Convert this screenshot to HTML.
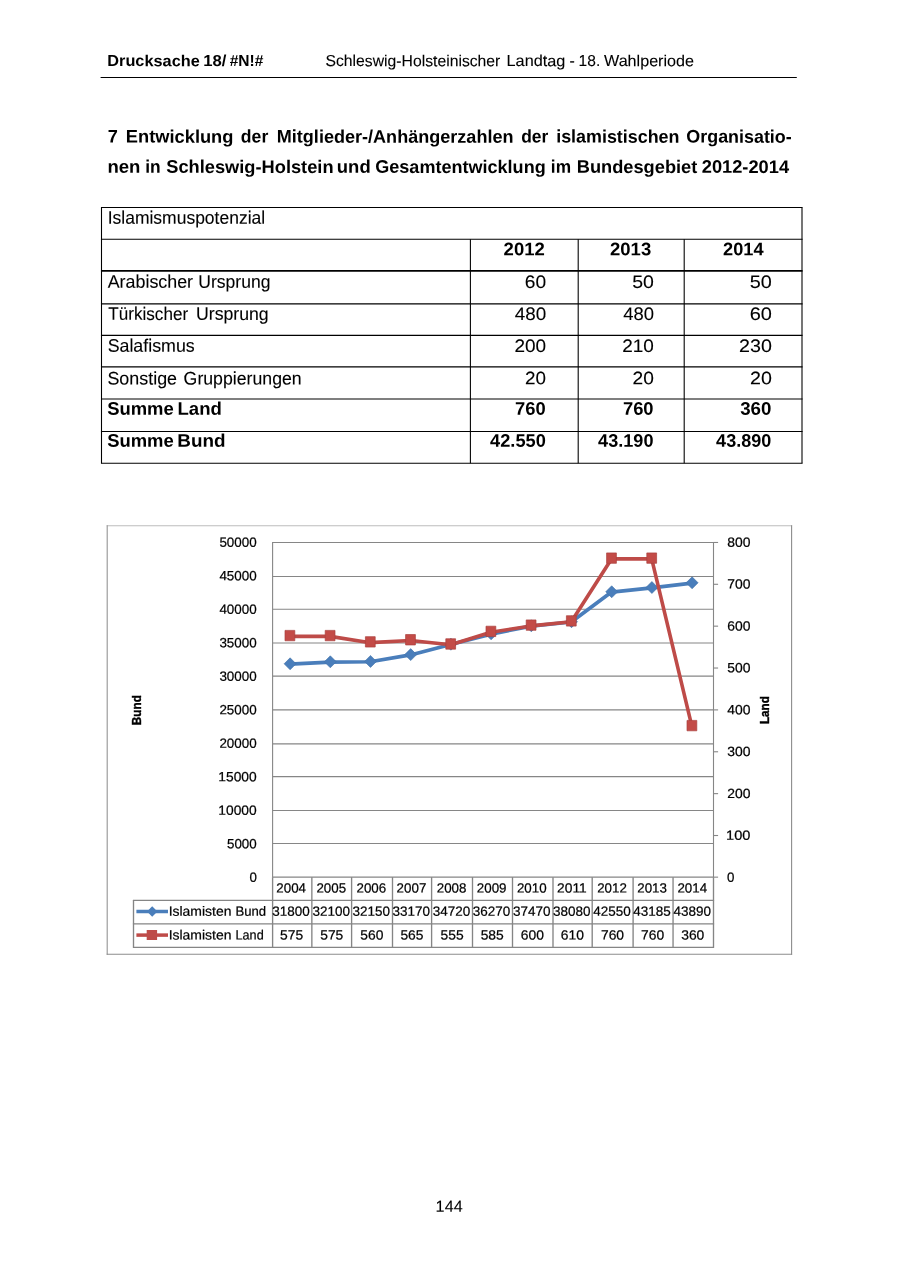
<!DOCTYPE html>
<html lang="de">
<head>
<meta charset="utf-8">
<title>Drucksache 18 - Schleswig-Holsteinischer Landtag - 18. Wahlperiode</title>
<style>
html,body{margin:0;padding:0;background:#fff;}
body{width:900px;height:1272px;overflow:hidden;font-family:"Liberation Sans",sans-serif;color:#000;}
svg{display:block;}
svg text{font-family:"Liberation Sans",sans-serif;white-space:pre;}
</style>
</head>
<body>
<svg width="900" height="1272" viewBox="0 0 900 1272">
<rect x="0" y="0" width="900" height="1272" fill="#fff"/>
<g stroke="#000" fill="none">
<line x1="100.6" y1="77.5" x2="796.8" y2="77.5" stroke-width="1.1"/>
<line x1="100.96" y1="207.55" x2="802.54" y2="207.55" stroke-width="1.08"/>
<line x1="100.96" y1="239.25" x2="802.54" y2="239.25" stroke-width="1.08"/>
<line x1="100.96" y1="270.8" x2="802.54" y2="270.8" stroke-width="1.75"/>
<line x1="100.96" y1="303.85" x2="802.54" y2="303.85" stroke-width="1.08"/>
<line x1="100.96" y1="335.4" x2="802.54" y2="335.4" stroke-width="1.08"/>
<line x1="100.96" y1="366.9" x2="802.54" y2="366.9" stroke-width="1.08"/>
<line x1="100.96" y1="398.95" x2="802.54" y2="398.95" stroke-width="1.08"/>
<line x1="100.96" y1="431.45" x2="802.54" y2="431.45" stroke-width="1.08"/>
<line x1="100.96" y1="463.2" x2="802.54" y2="463.2" stroke-width="1.08"/>
<line x1="101.5" y1="207.55" x2="101.5" y2="463.2" stroke-width="1.08"/>
<line x1="470.4" y1="239.25" x2="470.4" y2="463.2" stroke-width="1.08"/>
<line x1="578.2" y1="239.25" x2="578.2" y2="463.2" stroke-width="1.08"/>
<line x1="684.2" y1="239.25" x2="684.2" y2="463.2" stroke-width="1.08"/>
<line x1="802.0" y1="207.55" x2="802.0" y2="463.2" stroke-width="1.08"/>
</g>
<rect x="107.2" y="525.8" width="684.4" height="428.5" fill="#fff"/>
<g fill="none" stroke-width="1.1">
<line x1="106.7" y1="525.8" x2="792.1" y2="525.8" stroke="#bdbdbd"/>
<line x1="107.2" y1="525.3" x2="107.2" y2="954.8" stroke="#949494"/>
<line x1="791.6" y1="525.3" x2="791.6" y2="954.8" stroke="#8c8c8c"/>
<line x1="106.7" y1="954.3" x2="792.1" y2="954.3" stroke="#8c8c8c"/>
</g>
<g stroke="#868686" stroke-width="1.1" fill="none">
<line x1="272.6" y1="877.15" x2="713.5" y2="877.15"/>
<line x1="272.6" y1="843.57" x2="713.5" y2="843.57"/>
<line x1="272.6" y1="810.45" x2="713.5" y2="810.45"/>
<line x1="272.6" y1="776.60" x2="713.5" y2="776.60"/>
<line x1="272.6" y1="743.90" x2="713.5" y2="743.90"/>
<line x1="272.6" y1="709.90" x2="713.5" y2="709.90"/>
<line x1="272.6" y1="676.16" x2="713.5" y2="676.16"/>
<line x1="272.6" y1="643.05" x2="713.5" y2="643.05"/>
<line x1="272.6" y1="609.30" x2="713.5" y2="609.30"/>
<line x1="272.6" y1="576.44" x2="713.5" y2="576.44"/>
<line x1="272.6" y1="542.48" x2="713.5" y2="542.48"/>
<line x1="272.6" y1="541.9300000000001" x2="272.6" y2="877.15"/>
<line x1="713.5" y1="541.9300000000001" x2="713.5" y2="877.15"/>
<line x1="713.5" y1="877.15" x2="718.1" y2="877.15"/>
<line x1="713.5" y1="835.51" x2="718.1" y2="835.51"/>
<line x1="713.5" y1="793.64" x2="718.1" y2="793.64"/>
<line x1="713.5" y1="751.77" x2="718.1" y2="751.77"/>
<line x1="713.5" y1="709.90" x2="718.1" y2="709.90"/>
<line x1="713.5" y1="668.03" x2="718.1" y2="668.03"/>
<line x1="713.5" y1="626.16" x2="718.1" y2="626.16"/>
<line x1="713.5" y1="584.29" x2="718.1" y2="584.29"/>
<line x1="713.5" y1="542.48" x2="718.1" y2="542.48"/>
</g>
<g stroke="#858585" stroke-width="1.35" fill="none">
<line x1="132.9" y1="900.3" x2="714.1" y2="900.3"/>
<line x1="132.9" y1="923.9" x2="714.1" y2="923.9"/>
<line x1="132.9" y1="947.35" x2="714.1" y2="947.35"/>
<line x1="133.5" y1="900.3" x2="133.5" y2="947.35"/>
<line x1="272.60" y1="877.15" x2="272.60" y2="947.35"/>
<line x1="311.85" y1="877.15" x2="311.85" y2="947.35"/>
<line x1="351.60" y1="877.15" x2="351.60" y2="947.35"/>
<line x1="392.50" y1="877.15" x2="392.50" y2="947.35"/>
<line x1="431.60" y1="877.15" x2="431.60" y2="947.35"/>
<line x1="472.50" y1="877.15" x2="472.50" y2="947.35"/>
<line x1="512.50" y1="877.15" x2="512.50" y2="947.35"/>
<line x1="553.00" y1="877.15" x2="553.00" y2="947.35"/>
<line x1="592.20" y1="877.15" x2="592.20" y2="947.35"/>
<line x1="633.10" y1="877.15" x2="633.10" y2="947.35"/>
<line x1="673.05" y1="877.15" x2="673.05" y2="947.35"/>
<line x1="713.50" y1="877.15" x2="713.50" y2="947.35"/>
</g>
<polyline fill="none" stroke="#4a7ebb" stroke-width="3.7" stroke-linejoin="round" stroke-linecap="round" points="289.90,664.10 330.10,662.09 370.30,661.75 410.50,654.92 450.70,644.53 490.90,634.15 531.10,626.11 571.30,622.02 611.50,592.08 651.70,587.83 691.90,583.10"/>
<path fill="#4a7ebb" stroke="#4272a8" stroke-width="0.6" d="M284.10 663.80L290.10 657.80L296.10 663.80L290.10 669.80ZM324.30 661.79L330.30 655.79L336.30 661.79L330.30 667.79ZM364.50 661.45L370.50 655.45L376.50 661.45L370.50 667.45ZM404.70 654.62L410.70 648.62L416.70 654.62L410.70 660.62ZM444.90 644.23L450.90 638.23L456.90 644.23L450.90 650.23ZM485.10 633.85L491.10 627.85L497.10 633.85L491.10 639.85ZM525.30 625.81L531.30 619.81L537.30 625.81L531.30 631.81ZM565.50 621.72L571.50 615.72L577.50 621.72L571.50 627.72ZM605.70 591.78L611.70 585.78L617.70 591.78L611.70 597.78ZM645.90 587.53L651.90 581.53L657.90 587.53L651.90 593.53ZM686.10 582.80L692.10 576.80L698.10 582.80L692.10 588.80Z"/>
<polyline fill="none" stroke="#be4b48" stroke-width="3.6" stroke-linejoin="round" stroke-linecap="round" points="289.90,636.38 330.10,636.38 370.30,642.66 410.50,640.56 450.70,644.75 490.90,632.19 531.10,625.91 571.30,621.72 611.50,558.92 651.70,558.92 691.90,726.40"/>
<path fill="#c34b47" stroke="#ab403d" stroke-width="0.7" d="M285.00 630.38h9.8v10.4h-9.8ZM325.20 630.38h9.8v10.4h-9.8ZM365.40 636.66h9.8v10.4h-9.8ZM405.60 634.56h9.8v10.4h-9.8ZM445.80 638.75h9.8v10.4h-9.8ZM486.00 626.19h9.8v10.4h-9.8ZM526.20 619.91h9.8v10.4h-9.8ZM566.40 615.72h9.8v10.4h-9.8ZM606.60 552.92h9.8v10.4h-9.8ZM646.80 552.92h9.8v10.4h-9.8ZM687.00 720.40h9.8v10.4h-9.8Z"/>
<line x1="136.4" y1="911.5" x2="168" y2="911.5" stroke="#4a7ebb" stroke-width="3.5"/>
<path d="M147.0 911.5L152.2 906.3L157.4 911.5L152.2 916.7Z" fill="#4a7ebb"/>
<line x1="136.4" y1="935.1" x2="168" y2="935.1" stroke="#be4b48" stroke-width="3.5"/>
<rect x="146.7" y="930.0" width="10.4" height="10.0" fill="#be4b48"/>
<g fill="#000">
<text font-size="15.88" font-weight="bold" transform="matrix(1 0.001 0 1 0 0)"><tspan x="107.30" y="65.99" textLength="92.42" lengthAdjust="spacingAndGlyphs">Drucksache</tspan> <tspan x="203.25" y="65.90" textLength="23.17" lengthAdjust="spacingAndGlyphs">18/</tspan> <tspan x="229.66" y="65.87" textLength="33.72" lengthAdjust="spacingAndGlyphs">#N!#</tspan></text>
<text font-size="15.88" stroke="#000" stroke-width="0.1" transform="matrix(1 0.001 0 1 0 0)"><tspan x="325.45" y="65.77" textLength="174.94" lengthAdjust="spacingAndGlyphs">Schleswig-Holsteinischer</tspan> <tspan x="506.58" y="65.59" textLength="58.78" lengthAdjust="spacingAndGlyphs">Landtag</tspan> <tspan x="569.53" y="65.53">-</tspan> <tspan x="578.58" y="65.52" textLength="21.63" lengthAdjust="spacingAndGlyphs">18.</tspan> <tspan x="604.01" y="65.50" textLength="90.01" lengthAdjust="spacingAndGlyphs">Wahlperiode</tspan></text>
<text font-size="18.15" font-weight="bold" transform="matrix(1 0.001 0 1 0 0)"><tspan x="107.81" y="142.49">7</tspan> <tspan x="125.80" y="142.47" textLength="107.67" lengthAdjust="spacingAndGlyphs">Entwicklung</tspan> <tspan x="240.86" y="142.36" textLength="27.41" lengthAdjust="spacingAndGlyphs">der</tspan> <tspan x="276.77" y="142.32" textLength="236.75" lengthAdjust="spacingAndGlyphs">Mitglieder-/Anhängerzahlen</tspan> <tspan x="521.21" y="142.08" textLength="27.11" lengthAdjust="spacingAndGlyphs">der</tspan> <tspan x="556.18" y="142.04" textLength="123.32" lengthAdjust="spacingAndGlyphs">islamistischen</tspan> <tspan x="686.36" y="141.91" textLength="105.35" lengthAdjust="spacingAndGlyphs">Organisatio-</tspan></text>
<text font-size="18.15" font-weight="bold" transform="matrix(1 0.001 0 1 0 0)"><tspan x="107.47" y="172.74" textLength="32.98" lengthAdjust="spacingAndGlyphs">nen</tspan> <tspan x="145.23" y="172.70" textLength="15.44" lengthAdjust="spacingAndGlyphs">in</tspan> <tspan x="166.29" y="172.68" textLength="167.25" lengthAdjust="spacingAndGlyphs">Schleswig-Holstein</tspan> <tspan x="336.83" y="172.51" textLength="33.85" lengthAdjust="spacingAndGlyphs">und</tspan> <tspan x="375.28" y="172.47" textLength="170.41" lengthAdjust="spacingAndGlyphs">Gesamtentwicklung</tspan> <tspan x="550.83" y="172.30" textLength="20.17" lengthAdjust="spacingAndGlyphs">im</tspan> <tspan x="576.76" y="172.27" textLength="120.58" lengthAdjust="spacingAndGlyphs">Bundesgebiet</tspan> <tspan x="701.72" y="172.15" textLength="87.39" lengthAdjust="spacingAndGlyphs">2012-2014</tspan></text>
<text font-size="18.15" stroke="#000" stroke-width="0.1" transform="matrix(1 0.001 0 1 0 0)"><tspan x="107.67" y="223.59" textLength="157.49" lengthAdjust="spacingAndGlyphs">Islamismuspotenzial</tspan></text>
<text font-size="18.15" font-weight="bold" transform="matrix(1 0.001 0 1 0 0)"><tspan x="503.63" y="254.70" textLength="41.21" lengthAdjust="spacingAndGlyphs">2012</tspan></text>
<text font-size="18.15" font-weight="bold" transform="matrix(1 0.001 0 1 0 0)"><tspan x="610.00" y="254.59" textLength="41.20" lengthAdjust="spacingAndGlyphs">2013</tspan></text>
<text font-size="18.15" font-weight="bold" transform="matrix(1 0.001 0 1 0 0)"><tspan x="723.12" y="254.48" textLength="40.52" lengthAdjust="spacingAndGlyphs">2014</tspan></text>
<text font-size="18.15" stroke="#000" stroke-width="0.1" transform="matrix(1 0.001 0 1 0 0)"><tspan x="107.70" y="287.69" textLength="85.37" lengthAdjust="spacingAndGlyphs">Arabischer</tspan> <tspan x="198.35" y="287.60" textLength="72.07" lengthAdjust="spacingAndGlyphs">Ursprung</tspan></text>
<text font-size="18.15" stroke="#000" stroke-width="0.1" transform="matrix(1 0.001 0 1 0 0)"><tspan x="524.81" y="287.53" textLength="21.32" lengthAdjust="spacingAndGlyphs">60</tspan></text>
<text font-size="18.15" stroke="#000" stroke-width="0.1" transform="matrix(1 0.001 0 1 0 0)"><tspan x="632.23" y="287.42" textLength="21.69" lengthAdjust="spacingAndGlyphs">50</tspan></text>
<text font-size="18.15" stroke="#000" stroke-width="0.1" transform="matrix(1 0.001 0 1 0 0)"><tspan x="749.65" y="287.30" textLength="22.07" lengthAdjust="spacingAndGlyphs">50</tspan></text>
<text font-size="18.15" stroke="#000" stroke-width="0.1" transform="matrix(1 0.001 0 1 0 0)"><tspan x="108.36" y="319.74" textLength="79.72" lengthAdjust="spacingAndGlyphs">Türkischer</tspan> <tspan x="195.97" y="319.65" textLength="72.72" lengthAdjust="spacingAndGlyphs">Ursprung</tspan></text>
<text font-size="18.15" stroke="#000" stroke-width="0.1" transform="matrix(1 0.001 0 1 0 0)"><tspan x="514.76" y="319.54" textLength="31.45" lengthAdjust="spacingAndGlyphs">480</tspan></text>
<text font-size="18.15" stroke="#000" stroke-width="0.1" transform="matrix(1 0.001 0 1 0 0)"><tspan x="623.21" y="319.43" textLength="30.80" lengthAdjust="spacingAndGlyphs">480</tspan></text>
<text font-size="18.15" stroke="#000" stroke-width="0.1" transform="matrix(1 0.001 0 1 0 0)"><tspan x="749.68" y="319.30" textLength="22.22" lengthAdjust="spacingAndGlyphs">60</tspan></text>
<text font-size="18.15" stroke="#000" stroke-width="0.1" transform="matrix(1 0.001 0 1 0 0)"><tspan x="107.63" y="351.59" textLength="87.13" lengthAdjust="spacingAndGlyphs">Salafismus</tspan></text>
<text font-size="18.15" stroke="#000" stroke-width="0.1" transform="matrix(1 0.001 0 1 0 0)"><tspan x="514.47" y="351.39" textLength="31.66" lengthAdjust="spacingAndGlyphs">200</tspan></text>
<text font-size="18.15" stroke="#000" stroke-width="0.1" transform="matrix(1 0.001 0 1 0 0)"><tspan x="622.25" y="351.28" textLength="31.67" lengthAdjust="spacingAndGlyphs">210</tspan></text>
<text font-size="18.15" stroke="#000" stroke-width="0.1" transform="matrix(1 0.001 0 1 0 0)"><tspan x="739.08" y="351.16" textLength="32.84" lengthAdjust="spacingAndGlyphs">230</tspan></text>
<text font-size="18.15" stroke="#000" stroke-width="0.1" transform="matrix(1 0.001 0 1 0 0)"><tspan x="107.43" y="384.39" textLength="69.67" lengthAdjust="spacingAndGlyphs">Sonstige</tspan> <tspan x="183.62" y="384.32" textLength="118.09" lengthAdjust="spacingAndGlyphs">Gruppierungen</tspan></text>
<text font-size="18.15" stroke="#000" stroke-width="0.1" transform="matrix(1 0.001 0 1 0 0)"><tspan x="525.08" y="383.67" textLength="20.99" lengthAdjust="spacingAndGlyphs">20</tspan></text>
<text font-size="18.15" stroke="#000" stroke-width="0.1" transform="matrix(1 0.001 0 1 0 0)"><tspan x="632.52" y="383.57" textLength="21.35" lengthAdjust="spacingAndGlyphs">20</tspan></text>
<text font-size="18.15" stroke="#000" stroke-width="0.1" transform="matrix(1 0.001 0 1 0 0)"><tspan x="750.00" y="383.45" textLength="21.91" lengthAdjust="spacingAndGlyphs">20</tspan></text>
<text font-size="18.15" font-weight="bold" transform="matrix(1 0.001 0 1 0 0)"><tspan x="107.17" y="414.64" textLength="66.60" lengthAdjust="spacingAndGlyphs">Summe</tspan> <tspan x="177.50" y="414.57" textLength="44.38" lengthAdjust="spacingAndGlyphs">Land</tspan></text>
<text font-size="18.15" font-weight="bold" transform="matrix(1 0.001 0 1 0 0)"><tspan x="515.13" y="414.33" textLength="30.61" lengthAdjust="spacingAndGlyphs">760</tspan></text>
<text font-size="18.15" font-weight="bold" transform="matrix(1 0.001 0 1 0 0)"><tspan x="622.93" y="414.23" textLength="30.64" lengthAdjust="spacingAndGlyphs">760</tspan></text>
<text font-size="18.15" font-weight="bold" transform="matrix(1 0.001 0 1 0 0)"><tspan x="740.20" y="414.11" textLength="31.27" lengthAdjust="spacingAndGlyphs">360</tspan></text>
<text font-size="18.15" font-weight="bold" transform="matrix(1 0.001 0 1 0 0)"><tspan x="107.17" y="446.59" textLength="66.60" lengthAdjust="spacingAndGlyphs">Summe</tspan> <tspan x="177.34" y="446.52" textLength="48.24" lengthAdjust="spacingAndGlyphs">Bund</tspan></text>
<text font-size="18.15" font-weight="bold" transform="matrix(1 0.001 0 1 0 0)"><tspan x="490.08" y="446.26" textLength="55.72" lengthAdjust="spacingAndGlyphs">42.550</tspan></text>
<text font-size="18.15" font-weight="bold" transform="matrix(1 0.001 0 1 0 0)"><tspan x="598.14" y="446.15" textLength="55.36" lengthAdjust="spacingAndGlyphs">43.190</tspan></text>
<text font-size="18.15" font-weight="bold" transform="matrix(1 0.001 0 1 0 0)"><tspan x="716.11" y="446.03" textLength="55.19" lengthAdjust="spacingAndGlyphs">43.890</tspan></text>
<text font-size="15.88" stroke="#000" stroke-width="0.1" transform="matrix(1 0.001 0 1 0 0)"><tspan x="435.64" y="1211.36" textLength="27.04" lengthAdjust="spacingAndGlyphs">144</tspan></text>
<text font-size="13.3" stroke="#000" stroke-width="0.22" transform="matrix(1 0.001 0 1 0 0)"><tspan x="249.50" y="881.43">0</tspan></text>
<text font-size="13.3" stroke="#000" stroke-width="0.22" transform="matrix(1 0.001 0 1 0 0)"><tspan x="227.00" y="847.96" textLength="29.70" lengthAdjust="spacingAndGlyphs">5000</tspan></text>
<text font-size="13.3" stroke="#000" stroke-width="0.22" transform="matrix(1 0.001 0 1 0 0)"><tspan x="218.36" y="814.47" textLength="38.35" lengthAdjust="spacingAndGlyphs">10000</tspan></text>
<text font-size="13.3" stroke="#000" stroke-width="0.22" transform="matrix(1 0.001 0 1 0 0)"><tspan x="218.36" y="780.97" textLength="38.35" lengthAdjust="spacingAndGlyphs">15000</tspan></text>
<text font-size="13.3" stroke="#000" stroke-width="0.22" transform="matrix(1 0.001 0 1 0 0)"><tspan x="219.40" y="747.48" textLength="37.30" lengthAdjust="spacingAndGlyphs">20000</tspan></text>
<text font-size="13.3" stroke="#000" stroke-width="0.22" transform="matrix(1 0.001 0 1 0 0)"><tspan x="219.40" y="713.98" textLength="37.30" lengthAdjust="spacingAndGlyphs">25000</tspan></text>
<text font-size="13.3" stroke="#000" stroke-width="0.22" transform="matrix(1 0.001 0 1 0 0)"><tspan x="219.40" y="680.48" textLength="37.30" lengthAdjust="spacingAndGlyphs">30000</tspan></text>
<text font-size="13.3" stroke="#000" stroke-width="0.22" transform="matrix(1 0.001 0 1 0 0)"><tspan x="219.40" y="646.99" textLength="37.30" lengthAdjust="spacingAndGlyphs">35000</tspan></text>
<text font-size="13.3" stroke="#000" stroke-width="0.22" transform="matrix(1 0.001 0 1 0 0)"><tspan x="219.40" y="613.49" textLength="37.30" lengthAdjust="spacingAndGlyphs">40000</tspan></text>
<text font-size="13.3" stroke="#000" stroke-width="0.22" transform="matrix(1 0.001 0 1 0 0)"><tspan x="219.40" y="580.00" textLength="37.30" lengthAdjust="spacingAndGlyphs">45000</tspan></text>
<text font-size="13.3" stroke="#000" stroke-width="0.22" transform="matrix(1 0.001 0 1 0 0)"><tspan x="219.40" y="546.50" textLength="37.30" lengthAdjust="spacingAndGlyphs">50000</tspan></text>
<text font-size="13.3" stroke="#000" stroke-width="0.22" transform="matrix(1 0.001 0 1 0 0)"><tspan x="727.00" y="880.95">0</tspan></text>
<text font-size="13.3" stroke="#000" stroke-width="0.22" transform="matrix(1 0.001 0 1 0 0)"><tspan x="726.10" y="839.08" textLength="24.33" lengthAdjust="spacingAndGlyphs">100</tspan></text>
<text font-size="13.3" stroke="#000" stroke-width="0.22" transform="matrix(1 0.001 0 1 0 0)"><tspan x="727.20" y="797.21" textLength="23.21" lengthAdjust="spacingAndGlyphs">200</tspan></text>
<text font-size="13.3" stroke="#000" stroke-width="0.22" transform="matrix(1 0.001 0 1 0 0)"><tspan x="727.20" y="755.34" textLength="23.21" lengthAdjust="spacingAndGlyphs">300</tspan></text>
<text font-size="13.3" stroke="#000" stroke-width="0.22" transform="matrix(1 0.001 0 1 0 0)"><tspan x="727.20" y="713.47" textLength="23.21" lengthAdjust="spacingAndGlyphs">400</tspan></text>
<text font-size="13.3" stroke="#000" stroke-width="0.22" transform="matrix(1 0.001 0 1 0 0)"><tspan x="727.20" y="671.60" textLength="23.21" lengthAdjust="spacingAndGlyphs">500</tspan></text>
<text font-size="13.3" stroke="#000" stroke-width="0.22" transform="matrix(1 0.001 0 1 0 0)"><tspan x="727.20" y="629.73" textLength="23.21" lengthAdjust="spacingAndGlyphs">600</tspan></text>
<text font-size="13.3" stroke="#000" stroke-width="0.22" transform="matrix(1 0.001 0 1 0 0)"><tspan x="727.20" y="587.86" textLength="23.21" lengthAdjust="spacingAndGlyphs">700</tspan></text>
<text font-size="13.3" stroke="#000" stroke-width="0.22" transform="matrix(1 0.001 0 1 0 0)"><tspan x="727.20" y="545.99" textLength="23.21" lengthAdjust="spacingAndGlyphs">800</tspan></text>
<text font-size="13.3" stroke="#000" stroke-width="0.22" transform="matrix(1 0.001 0 1 0 0)"><tspan x="276.30" y="892.22" textLength="29.70" lengthAdjust="spacingAndGlyphs">2004</tspan></text>
<text font-size="13.3" stroke="#000" stroke-width="0.22" transform="matrix(1 0.001 0 1 0 0)"><tspan x="272.30" y="915.43" textLength="37.50" lengthAdjust="spacingAndGlyphs">31800</tspan></text>
<text font-size="13.3" stroke="#000" stroke-width="0.22" transform="matrix(1 0.001 0 1 0 0)"><tspan x="280.10" y="939.22" textLength="23.11" lengthAdjust="spacingAndGlyphs">575</tspan></text>
<text font-size="13.3" stroke="#000" stroke-width="0.22" transform="matrix(1 0.001 0 1 0 0)"><tspan x="316.41" y="892.18" textLength="29.70" lengthAdjust="spacingAndGlyphs">2005</tspan></text>
<text font-size="13.3" stroke="#000" stroke-width="0.22" transform="matrix(1 0.001 0 1 0 0)"><tspan x="312.41" y="915.39" textLength="37.50" lengthAdjust="spacingAndGlyphs">32100</tspan></text>
<text font-size="13.3" stroke="#000" stroke-width="0.22" transform="matrix(1 0.001 0 1 0 0)"><tspan x="320.21" y="939.18" textLength="23.11" lengthAdjust="spacingAndGlyphs">575</tspan></text>
<text font-size="13.3" stroke="#000" stroke-width="0.22" transform="matrix(1 0.001 0 1 0 0)"><tspan x="356.52" y="892.14" textLength="29.70" lengthAdjust="spacingAndGlyphs">2006</tspan></text>
<text font-size="13.3" stroke="#000" stroke-width="0.22" transform="matrix(1 0.001 0 1 0 0)"><tspan x="352.52" y="915.35" textLength="37.50" lengthAdjust="spacingAndGlyphs">32150</tspan></text>
<text font-size="13.3" stroke="#000" stroke-width="0.22" transform="matrix(1 0.001 0 1 0 0)"><tspan x="360.32" y="939.14" textLength="23.11" lengthAdjust="spacingAndGlyphs">560</tspan></text>
<text font-size="13.3" stroke="#000" stroke-width="0.22" transform="matrix(1 0.001 0 1 0 0)"><tspan x="396.63" y="892.10" textLength="29.70" lengthAdjust="spacingAndGlyphs">2007</tspan></text>
<text font-size="13.3" stroke="#000" stroke-width="0.22" transform="matrix(1 0.001 0 1 0 0)"><tspan x="392.63" y="915.31" textLength="37.50" lengthAdjust="spacingAndGlyphs">33170</tspan></text>
<text font-size="13.3" stroke="#000" stroke-width="0.22" transform="matrix(1 0.001 0 1 0 0)"><tspan x="400.43" y="939.10" textLength="23.11" lengthAdjust="spacingAndGlyphs">565</tspan></text>
<text font-size="13.3" stroke="#000" stroke-width="0.22" transform="matrix(1 0.001 0 1 0 0)"><tspan x="436.74" y="892.06" textLength="29.70" lengthAdjust="spacingAndGlyphs">2008</tspan></text>
<text font-size="13.3" stroke="#000" stroke-width="0.22" transform="matrix(1 0.001 0 1 0 0)"><tspan x="432.74" y="915.27" textLength="37.50" lengthAdjust="spacingAndGlyphs">34720</tspan></text>
<text font-size="13.3" stroke="#000" stroke-width="0.22" transform="matrix(1 0.001 0 1 0 0)"><tspan x="440.54" y="939.06" textLength="23.11" lengthAdjust="spacingAndGlyphs">555</tspan></text>
<text font-size="13.3" stroke="#000" stroke-width="0.22" transform="matrix(1 0.001 0 1 0 0)"><tspan x="476.85" y="892.02" textLength="29.70" lengthAdjust="spacingAndGlyphs">2009</tspan></text>
<text font-size="13.3" stroke="#000" stroke-width="0.22" transform="matrix(1 0.001 0 1 0 0)"><tspan x="472.85" y="915.23" textLength="37.50" lengthAdjust="spacingAndGlyphs">36270</tspan></text>
<text font-size="13.3" stroke="#000" stroke-width="0.22" transform="matrix(1 0.001 0 1 0 0)"><tspan x="480.65" y="939.02" textLength="23.11" lengthAdjust="spacingAndGlyphs">585</tspan></text>
<text font-size="13.3" stroke="#000" stroke-width="0.22" transform="matrix(1 0.001 0 1 0 0)"><tspan x="516.96" y="891.98" textLength="29.70" lengthAdjust="spacingAndGlyphs">2010</tspan></text>
<text font-size="13.3" stroke="#000" stroke-width="0.22" transform="matrix(1 0.001 0 1 0 0)"><tspan x="512.96" y="915.19" textLength="37.50" lengthAdjust="spacingAndGlyphs">37470</tspan></text>
<text font-size="13.3" stroke="#000" stroke-width="0.22" transform="matrix(1 0.001 0 1 0 0)"><tspan x="520.76" y="938.98" textLength="23.11" lengthAdjust="spacingAndGlyphs">600</tspan></text>
<text font-size="13.3" stroke="#000" stroke-width="0.22" transform="matrix(1 0.001 0 1 0 0)"><tspan x="557.07" y="891.94" textLength="29.71" lengthAdjust="spacingAndGlyphs">2011</tspan></text>
<text font-size="13.3" stroke="#000" stroke-width="0.22" transform="matrix(1 0.001 0 1 0 0)"><tspan x="553.07" y="915.15" textLength="37.50" lengthAdjust="spacingAndGlyphs">38080</tspan></text>
<text font-size="13.3" stroke="#000" stroke-width="0.22" transform="matrix(1 0.001 0 1 0 0)"><tspan x="560.87" y="938.94" textLength="23.11" lengthAdjust="spacingAndGlyphs">610</tspan></text>
<text font-size="13.3" stroke="#000" stroke-width="0.22" transform="matrix(1 0.001 0 1 0 0)"><tspan x="597.18" y="891.90" textLength="29.70" lengthAdjust="spacingAndGlyphs">2012</tspan></text>
<text font-size="13.3" stroke="#000" stroke-width="0.22" transform="matrix(1 0.001 0 1 0 0)"><tspan x="593.18" y="915.11" textLength="37.50" lengthAdjust="spacingAndGlyphs">42550</tspan></text>
<text font-size="13.3" stroke="#000" stroke-width="0.22" transform="matrix(1 0.001 0 1 0 0)"><tspan x="600.98" y="938.90" textLength="23.11" lengthAdjust="spacingAndGlyphs">760</tspan></text>
<text font-size="13.3" stroke="#000" stroke-width="0.22" transform="matrix(1 0.001 0 1 0 0)"><tspan x="637.29" y="891.86" textLength="29.70" lengthAdjust="spacingAndGlyphs">2013</tspan></text>
<text font-size="13.3" stroke="#000" stroke-width="0.22" transform="matrix(1 0.001 0 1 0 0)"><tspan x="633.29" y="915.07" textLength="37.50" lengthAdjust="spacingAndGlyphs">43185</tspan></text>
<text font-size="13.3" stroke="#000" stroke-width="0.22" transform="matrix(1 0.001 0 1 0 0)"><tspan x="641.09" y="938.86" textLength="23.11" lengthAdjust="spacingAndGlyphs">760</tspan></text>
<text font-size="13.3" stroke="#000" stroke-width="0.22" transform="matrix(1 0.001 0 1 0 0)"><tspan x="677.40" y="891.82" textLength="29.70" lengthAdjust="spacingAndGlyphs">2014</tspan></text>
<text font-size="13.3" stroke="#000" stroke-width="0.22" transform="matrix(1 0.001 0 1 0 0)"><tspan x="673.40" y="915.03" textLength="37.50" lengthAdjust="spacingAndGlyphs">43890</tspan></text>
<text font-size="13.3" stroke="#000" stroke-width="0.22" transform="matrix(1 0.001 0 1 0 0)"><tspan x="681.20" y="938.82" textLength="23.11" lengthAdjust="spacingAndGlyphs">360</tspan></text>
<text font-size="13.3" stroke="#000" stroke-width="0.22" transform="matrix(1 0.001 0 1 0 0)"><tspan x="168.65" y="915.63" textLength="62.76" lengthAdjust="spacingAndGlyphs">Islamisten</tspan> <tspan x="235.51" y="915.56" textLength="30.68" lengthAdjust="spacingAndGlyphs">Bund</tspan></text>
<text font-size="13.3" stroke="#000" stroke-width="0.22" transform="matrix(1 0.001 0 1 0 0)"><tspan x="168.65" y="939.23" textLength="62.76" lengthAdjust="spacingAndGlyphs">Islamisten</tspan> <tspan x="235.55" y="939.16" textLength="28.13" lengthAdjust="spacingAndGlyphs">Land</tspan></text>
<text font-size="13.3" font-weight="bold" y="140.55" transform="rotate(-90)" stroke="#000" stroke-width="0.4"><tspan x="-725.20" textLength="30.01" lengthAdjust="spacingAndGlyphs">Bund</tspan></text>
<text font-size="13.1" font-weight="bold" y="768.90" transform="rotate(-90)" stroke="#000" stroke-width="0.4"><tspan x="-724.00" textLength="27.80" lengthAdjust="spacingAndGlyphs">Land</tspan></text>
</g>
</svg>
</body>
</html>
